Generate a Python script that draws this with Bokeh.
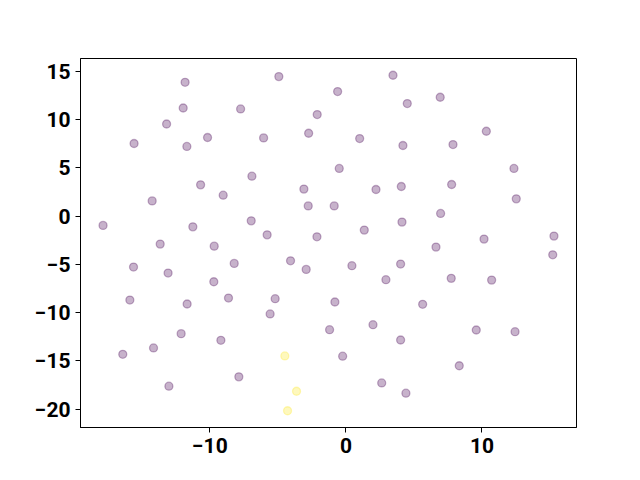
from bokeh.plotting import figure
from bokeh.models import ColumnDataSource, Range1d, FixedTicker, CustomJSTickFormatter
from bokeh.embed import file_html
from bokeh.resources import INLINE

# Points (data coordinates)
x_purple = [-11.82, -4.93, 3.46, 6.93, -0.61, 4.51, -11.96, -7.74, -2.11, -13.18,
            -2.74, 10.32, -15.57, -11.69, -10.17, -6.05, 1.01, 4.19, 7.87, -6.91,
            -0.49, 12.35, -10.68, -3.09, 2.21, 4.07, 7.77, -9.02, -14.24, -2.77,
            -0.86, 12.52, -17.85, -11.25, -6.96, -5.79, -2.13, 1.35, 4.12, 6.96,
            10.15, 15.29, -13.65, -9.68, 6.62, 15.20, -15.61, -13.07, -8.21, -4.07,
            -2.92, 0.44, 4.02, -9.71, 2.94, 7.74, 10.71, -15.88, -11.67, -8.63,
            -5.20, -5.57, -0.81, 5.64, -1.20, 1.99, 4.02, 9.58, 12.43, -12.11,
            -9.19, -14.14, -16.40, -0.24, 8.33, -7.87, -13.01, 2.63, 4.41]
y_purple = [13.87, 14.46, 14.60, 12.32, 12.91, 11.67, 11.21, 11.11, 10.53, 9.55,
            8.59, 8.80, 7.53, 7.22, 8.15, 8.11, 8.04, 7.32, 7.42, 4.14,
            4.94, 4.94, 3.24, 2.80, 2.76, 3.07, 3.28, 2.17, 1.58, 1.06,
            1.06, 1.79, -0.96, -1.11, -0.49, -1.94, -2.14, -1.45, -0.62, 0.28,
            -2.38, -2.07, -2.90, -3.11, -3.21, -4.01, -5.28, -5.90, -4.90, -4.63,
            -5.52, -5.14, -4.97, -6.80, -6.59, -6.45, -6.63, -8.70, -9.11, -8.49,
            -8.56, -10.14, -8.90, -9.14, -11.77, -11.25, -12.84, -11.80, -11.98, -12.18,
            -12.87, -13.66, -14.32, -14.52, -15.51, -16.66, -17.63, -17.29, -18.35]
x_yellow = [-4.49, -3.63, -4.29]
y_yellow = [-14.49, -18.15, -20.17]

x_ticks = [-10, 0, 10]
y_ticks = [-20, -15, -10, -5, 0, 5, 10, 15]

PURPLE = "#440154"
YELLOW = "#fde725"

xs = x_purple + x_yellow
ys = y_purple + y_yellow
colors = [PURPLE] * len(x_purple) + [YELLOW] * len(x_yellow)

def padded(vals, frac=0.05):
    lo, hi = min(vals), max(vals)
    m = (hi - lo) * frac
    return lo - m, hi + m

xlo, xhi = padded(xs)
ylo, yhi = padded(ys)

p = figure(width=640, height=472, output_backend="svg", toolbar_location=None,
           x_range=Range1d(xlo, xhi), y_range=Range1d(ylo, yhi),
           min_border_left=80, min_border_right=64, min_border_top=58,
           min_border_bottom=45)

src = ColumnDataSource(dict(x=xs, y=ys, c=colors))
p.scatter("x", "y", source=src, size=8, fill_color="c", line_color="c",
          fill_alpha=0.3, line_alpha=0.3, line_width=1.3)

p.xgrid.visible = False
p.ygrid.visible = False
p.outline_line_color = "black"
p.outline_line_alpha = 1.0
p.outline_line_width = 1

fmt = CustomJSTickFormatter(code="""
    return tick < 0 ? "\\u2212" + Math.abs(tick) : String(tick);
""")

for ax, ticks in ((p.xaxis[0], x_ticks), (p.yaxis[0], y_ticks)):
    ax.ticker = FixedTicker(ticks=ticks)
    ax.formatter = fmt
    ax.minor_tick_line_color = None
    ax.major_tick_in = 0
    ax.major_tick_out = 5
    ax.major_tick_line_color = "black"
    ax.axis_line_color = "black"
    ax.major_label_text_font = "Roboto"
    ax.major_label_text_font_style = "bold"
    ax.major_label_text_font_size = "21px"
    ax.major_label_text_color = "black"
    ax.major_label_standoff = 5

open("out.html", "w").write(file_html(p, INLINE))
